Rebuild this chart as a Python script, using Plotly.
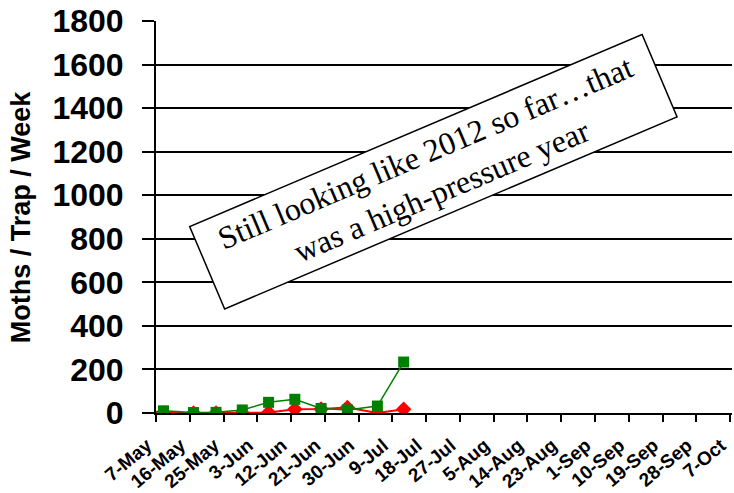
import plotly.graph_objects as go

# Weekly trap catches
dates = ["2013-05-05", "2013-05-09", "2013-05-17", "2013-05-23", "2013-05-30",
         "2013-06-06", "2013-06-13", "2013-06-20", "2013-06-27", "2013-07-05",
         "2013-07-12"]
green_counts = [4, 10, 2, 3, 14, 49, 63, 21, 14, 32, 234]
red_counts = [2, 0, 0, 0, 0, 2, 17, 18, 25, 0, 17]

# Date axis ticks every 9 days
tick_dates = ["2013-05-07", "2013-05-16", "2013-05-25", "2013-06-03", "2013-06-12",
              "2013-06-21", "2013-06-30", "2013-07-09", "2013-07-18", "2013-07-27",
              "2013-08-05", "2013-08-14", "2013-08-23", "2013-09-01", "2013-09-10",
              "2013-09-19", "2013-09-28", "2013-10-07"]
tick_labels = ["7-May", "16-May", "25-May", "3-Jun", "12-Jun", "21-Jun", "30-Jun",
               "9-Jul", "18-Jul", "27-Jul", "5-Aug", "14-Aug", "23-Aug", "1-Sep",
               "10-Sep", "19-Sep", "28-Sep", "7-Oct"]
y_ticks = [0, 200, 400, 600, 800, 1000, 1200, 1400, 1600, 1800]

fig = go.Figure()
fig.add_trace(go.Scatter(
    x=dates, y=red_counts, mode="lines+markers",
    line=dict(color="#ff0000", width=2),
    marker=dict(symbol="diamond", size=12, color="#ff0000"),
    showlegend=False,
))
fig.add_trace(go.Scatter(
    x=dates, y=green_counts, mode="lines+markers",
    line=dict(color="#008000", width=1.5),
    marker=dict(symbol="square", size=11, color="#008000"),
    showlegend=False,
))

fig.update_layout(
    width=734, height=493,
    margin=dict(l=156, r=2, t=21, b=80),
    paper_bgcolor="white", plot_bgcolor="white",
    font=dict(family="Liberation Sans, Arial, sans-serif", color="black"),
    xaxis=dict(
        type="date",
        range=["2013-05-07", "2013-10-07 12:00"],
        tickvals=tick_dates, ticktext=tick_labels,
        tickangle=-40,
        tickfont=dict(size=19, family="Liberation Sans, Arial, sans-serif", weight="bold"),
        ticklabeloverflow="allow",
        ticklabelshift=-9, ticklabelstandoff=5,
        ticks="outside", ticklen=7, tickwidth=1.5, tickcolor="black",
        showline=True, linecolor="black", linewidth=2,
        showgrid=False, zeroline=False, automargin=False,
    ),
    yaxis=dict(
        range=[0, 1800],
        tickvals=y_ticks,
        tickfont=dict(size=32, family="Liberation Sans, Arial, sans-serif", weight="bold"),
        ticks="outside", ticklen=12, tickwidth=1.5, tickcolor="black",
        ticklabelstandoff=12,
        showline=True, linecolor="black", linewidth=2,
        showgrid=True, gridcolor="black", gridwidth=1.5,
        zeroline=False, automargin=False,
    ),
    annotations=[
        dict(
            text="Moths / Trap / Week",
            xref="paper", yref="paper", x=-0.234, y=0.5,
            xanchor="center", yanchor="middle",
            textangle=-90, showarrow=False,
            font=dict(size=27, family="Liberation Sans, Arial, sans-serif", weight="bold"),
        ),
        dict(
            text="Still looking like 2012 so far\u2026that<br>was a high-pressure year",
            xref="paper", yref="paper", x=0.4826, y=0.615,
            xanchor="center", yanchor="middle",
            textangle=-23, showarrow=False,
            font=dict(size=32, family="Liberation Serif, Times New Roman, serif", color="black"),
            bgcolor="white", bordercolor="black", borderwidth=1.5, borderpad=5,
            width=480, height=78, align="center",
        ),
    ],
)

fig.write_html("out.html")
